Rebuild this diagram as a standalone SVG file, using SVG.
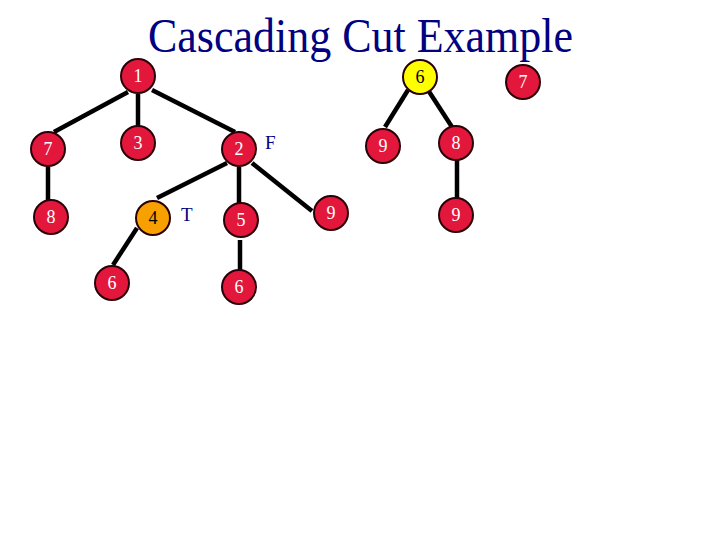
<svg xmlns="http://www.w3.org/2000/svg" width="720" height="540" viewBox="0 0 720 540">
<style>
.n{fill:#E3173C;stroke:#2a0008;stroke-width:2}
.o{fill:#F7A000;stroke:#2a0008;stroke-width:2}
.y{fill:#FFFF00;stroke:#2a0008;stroke-width:2}
.t{font-family:"Liberation Serif","Times New Roman",serif;font-size:18px;text-anchor:middle;fill:#ffffff}
.tb{fill:#000000}
.l{font-family:"Liberation Serif","Times New Roman",serif;font-size:19px;fill:#000080}
#edges line{stroke:#000000;stroke-width:4.5;stroke-linecap:butt}
</style>
<rect width="720" height="540" fill="#ffffff"/>
<text x="148" y="52" font-family="'Liberation Serif','Times New Roman',serif" font-size="48" fill="#000080" textLength="425" lengthAdjust="spacingAndGlyphs">Cascading Cut Example</text>
<g id="edges">
<line x1="128" y1="92" x2="54" y2="132"/>
<line x1="138" y1="94" x2="138" y2="126"/>
<line x1="152" y1="90" x2="235" y2="132"/>
<line x1="48" y1="167" x2="48" y2="204"/>
<line x1="227" y1="163" x2="157" y2="198"/>
<line x1="239" y1="167" x2="239" y2="203"/>
<line x1="252" y1="163" x2="312" y2="211"/>
<line x1="137" y1="228" x2="113" y2="265"/>
<line x1="240" y1="240" x2="240" y2="270"/>
<line x1="408" y1="90" x2="385" y2="127"/>
<line x1="428" y1="90" x2="452" y2="127"/>
<line x1="457" y1="160" x2="457" y2="199"/>
</g>
<g id="n1"><circle class="n" cx="138" cy="76" r="17"/><text class="t" x="138" y="82">1</text></g>
<g id="n7a"><circle class="n" cx="48" cy="149" r="17"/><text class="t" x="48" y="155">7</text></g>
<g id="n3"><circle class="n" cx="138" cy="143" r="17"/><text class="t" x="138" y="149">3</text></g>
<g id="n2"><circle class="n" cx="239" cy="149" r="17"/><text class="t" x="239" y="155">2</text></g>
<g id="n8a"><circle class="n" cx="51" cy="217" r="17"/><text class="t" x="51" y="223">8</text></g>
<g id="n4"><circle class="o" cx="153" cy="218" r="17"/><text class="t tb" x="153" y="224">4</text></g>
<g id="n5"><circle class="n" cx="241" cy="220" r="17"/><text class="t" x="241" y="226">5</text></g>
<g id="n6a"><circle class="n" cx="112" cy="283" r="17"/><text class="t" x="112" y="289">6</text></g>
<g id="n6b"><circle class="n" cx="239" cy="287" r="17"/><text class="t" x="239" y="293">6</text></g>
<g id="n9a"><circle class="n" cx="331" cy="213" r="17"/><text class="t" x="331" y="219">9</text></g>
<g id="n6c"><circle class="y" cx="420" cy="77" r="17"/><text class="t tb" x="420" y="83">6</text></g>
<g id="n7b"><circle class="n" cx="523" cy="82" r="17"/><text class="t" x="523" y="88">7</text></g>
<g id="n9b"><circle class="n" cx="383" cy="146" r="17"/><text class="t" x="383" y="152">9</text></g>
<g id="n8b"><circle class="n" cx="456" cy="143" r="17"/><text class="t" x="456" y="149">8</text></g>
<g id="n9c"><circle class="n" cx="456" cy="215" r="17"/><text class="t" x="456" y="221">9</text></g>
<g id="labels">
<text class="l" x="265" y="149">F</text>
<text class="l" x="181" y="221">T</text>
</g>
</svg>
